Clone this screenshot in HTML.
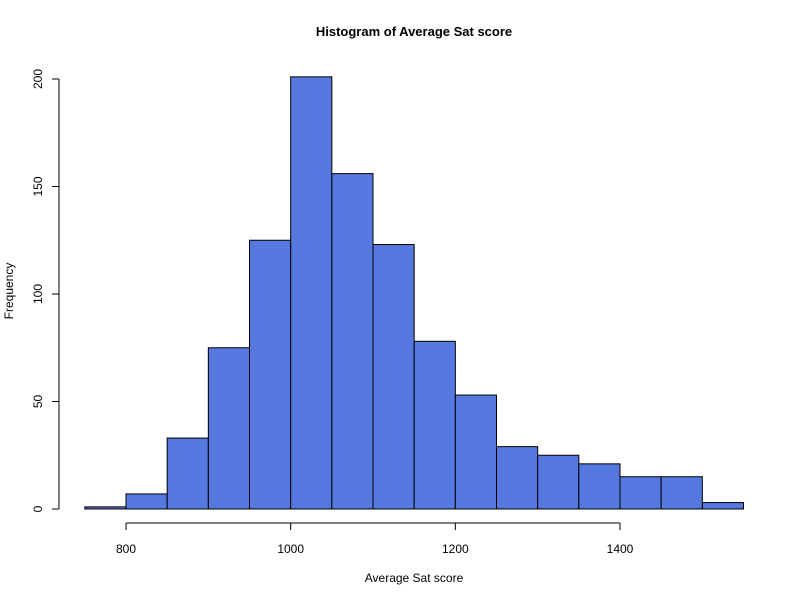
<!DOCTYPE html>
<html><head><meta charset="utf-8"><style>
body{margin:0;background:#fff}
svg{display:block;font-family:"Liberation Sans",Arial,sans-serif}
</style></head><body>
<svg id="chart" width="800" height="600">
<text x="414" y="36" text-anchor="middle" font-size="13" font-weight="bold">Histogram of Average Sat score</text>
<text x="414" y="582" text-anchor="middle" font-size="12">Average Sat score</text>
<text x="0" y="0" transform="translate(13,291) rotate(-90)" text-anchor="middle" font-size="12">Frequency</text>
<g id="bars"></g><g id="axes"></g>
</svg>
<script>
const binStarts=[750,800,850,900,950,1000,1050,1100,1150,1200,1250,1300,1350,1400,1450,1500];
const binWidth=50;
const counts=[1,7,33,75,125,201,156,123,78,53,29,25,21,15,15,3];
const xTicks=[800,1000,1200,1400];
const yTicks=[0,50,100,150,200];
const NS="http://www.w3.org/2000/svg";
function xs(v){return 126+(v-800)*(620-126)/600;}
function ys(v){return 509-v*(509-79)/200;}
const bars=document.getElementById('bars'),axes=document.getElementById('axes');
function mk(tag,attrs,parent){const e=document.createElementNS(NS,tag);for(const k in attrs)e.setAttribute(k,attrs[k]);parent.appendChild(e);return e;}
binStarts.forEach((b,i)=>{
  const r=mk('rect',{x:xs(b),y:ys(counts[i]),width:xs(b+binWidth)-xs(b),height:ys(0)-ys(counts[i]),fill:'#5679df',stroke:'#000','stroke-width':1},bars);
  
  
});
const xl=mk('line',{x1:xs(xTicks[0]),x2:xs(xTicks[xTicks.length-1]),y1:523,y2:523,stroke:'#000'},axes);


xTicks.forEach(t=>{
  mk('line',{x1:xs(t),x2:xs(t),y1:523,y2:530,stroke:'#000'},axes);
  const tx=mk('text',{x:xs(t),y:553,'text-anchor':'middle','font-size':12},axes);
  tx.textContent=t;
  
  
});
const yl=mk('line',{x1:59,x2:59,y1:ys(yTicks[0]),y2:ys(yTicks[yTicks.length-1]),stroke:'#000'},axes);


yTicks.forEach(t=>{
  mk('line',{x1:52,x2:59,y1:ys(t),y2:ys(t),stroke:'#000'},axes);
  const tx=mk('text',{x:0,y:0,transform:'translate(42,'+ys(t)+') rotate(-90)','text-anchor':'middle','font-size':12},axes);
  tx.textContent=t;
  
  
});
</script>
</body></html>
